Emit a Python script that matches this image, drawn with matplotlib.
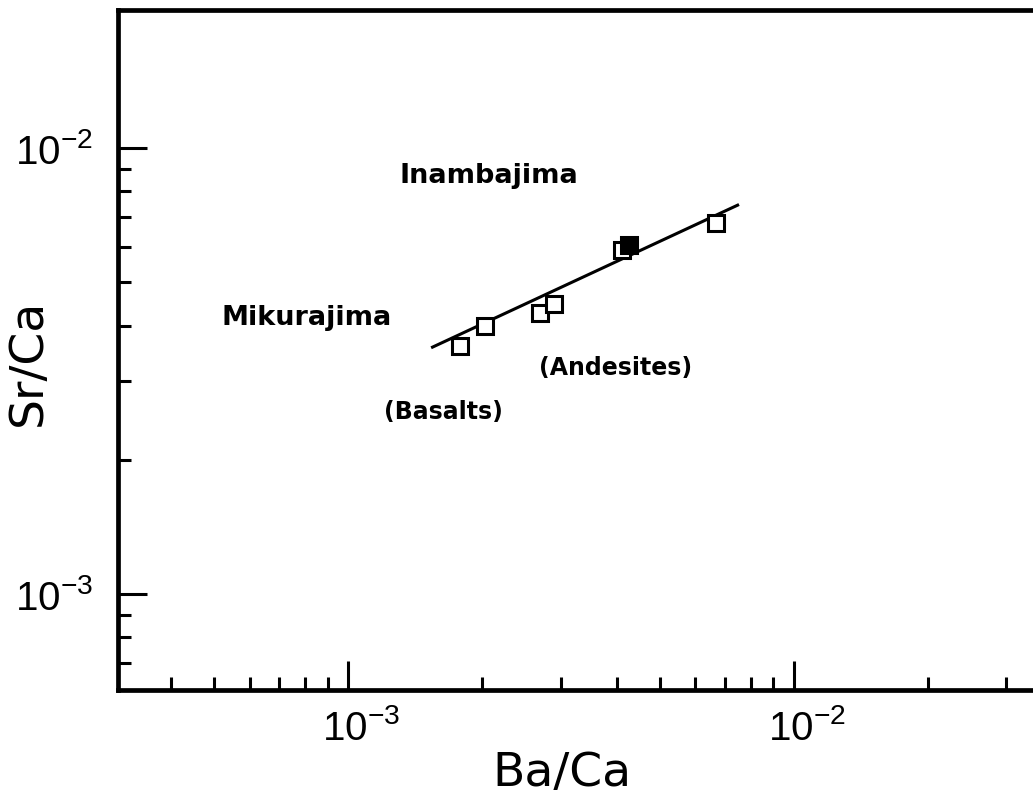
import math
import matplotlib
matplotlib.use("Agg")
import matplotlib.pyplot as plt
from matplotlib import font_manager
from matplotlib.ticker import LogLocator, FixedLocator, FuncFormatter, NullFormatter
from matplotlib.transforms import ScaledTranslation

# Sr/Ca against Ba/Ca for the Mikurajima / Inambajima lavas
# open squares
baCa = [1.78e-3, 2.03e-3, 2.70e-3, 2.90e-3, 4.12e-3, 6.68e-3]
srCa = [3.60e-3, 3.99e-3, 4.27e-3, 4.48e-3, 5.90e-3, 6.79e-3]

# the single filled square
baCaFilled = [4.27e-3]
srCaFilled = [6.06e-3]

# end points of the trend line
lineBaCa = [1.545e-3, 7.48e-3]
lineSrCa = [3.58e-3, 7.45e-3]

majorTicks = [1e-3, 1e-2]
# y minor ticks stop below the top spine (no tick at 2e-2)
yMinorTicks = [7e-4, 8e-4, 9e-4, 2e-3, 3e-3, 4e-3, 5e-3, 6e-3, 7e-3, 8e-3, 9e-3]


def powerLabel(v, pos):
    return r'$\mathregular{10^{%d}}$' % round(math.log10(v))


# the scan uses a tall narrow face for the tick numbers
installed = {f.name for f in font_manager.fontManager.ttflist}
tickFont = 'Liberation Sans Narrow' if 'Liberation Sans Narrow' in installed else 'Liberation Sans'

W, H = 1033, 797
fig = plt.figure(figsize=(W / 100, H / 100), dpi=100)
# axes run on past the right edge of the picture, like the scanned figure
ax = fig.add_axes([118 / W, 107 / H, 943 / W, 680 / H])

ax.plot(lineBaCa, lineSrCa, color='black', linewidth=2.2, zorder=2)
ax.plot(baCa, srCa, linestyle='none', marker='s', markersize=11.5,
        markerfacecolor='white', markeredgecolor='black',
        markeredgewidth=2.2, zorder=3)
ax.plot(baCaFilled, srCaFilled, linestyle='none', marker='s', markersize=11.5,
        markerfacecolor='black', markeredgecolor='black',
        markeredgewidth=2.2, zorder=4)

ax.set_xscale('log')
ax.set_yscale('log')
ax.set_xlim(3.04e-4, 3.98e-2)
ax.set_ylim(6.1e-4, 2.04e-2)

for axis in (ax.xaxis, ax.yaxis):
    axis.set_major_locator(FixedLocator(majorTicks))
    axis.set_major_formatter(FuncFormatter(powerLabel))
    axis.set_minor_formatter(NullFormatter())
ax.xaxis.set_minor_locator(LogLocator(base=10, subs=range(2, 10), numticks=20))
ax.yaxis.set_minor_locator(FixedLocator(yMinorTicks))

ax.tick_params(which='both', direction='in', top=False, right=False,
               width=2.2, color='black')
ax.tick_params(which='major', length=21)
ax.tick_params(which='minor', length=9.5)
ax.tick_params(axis='both', which='major', labelsize=29, labelfontfamily=tickFont)
ax.tick_params(axis='x', which='major', pad=14)
ax.tick_params(axis='y', which='major', pad=18)

# the scanned labels sit a little right of their ticks
shift = ScaledTranslation(13 / 100, 0, fig.dpi_scale_trans)
for lbl in ax.get_xticklabels():
    lbl.set_transform(lbl.get_transform() + shift)

for side in ['left', 'bottom', 'top', 'right']:
    ax.spines[side].set_linewidth(3.4)

# axis titles
fig.text(562 / W, 1 - 774 / H, 'Ba/Ca', fontsize=34, ha='center', va='center',
         family='DejaVu Sans')
fig.text(28 / W, 1 - 362 / H, 'Sr/Ca', fontsize=34, ha='center', va='center',
         rotation=90, family='DejaVu Sans')

# annotations
fig.text(400 / W, 1 - 176 / H, 'Inambajima', fontsize=19.5, fontweight='bold',
         ha='left', va='center')
fig.text(222 / W, 1 - 318 / H, 'Mikurajima', fontsize=19.5, fontweight='bold',
         ha='left', va='center')
fig.text(539 / W, 1 - 368 / H, '(Andesites)', fontsize=17, fontweight='bold',
         ha='left', va='center')
fig.text(384 / W, 1 - 412 / H, '(Basalts)', fontsize=17, fontweight='bold',
         ha='left', va='center')

fig.savefig('out.png', dpi=100)
